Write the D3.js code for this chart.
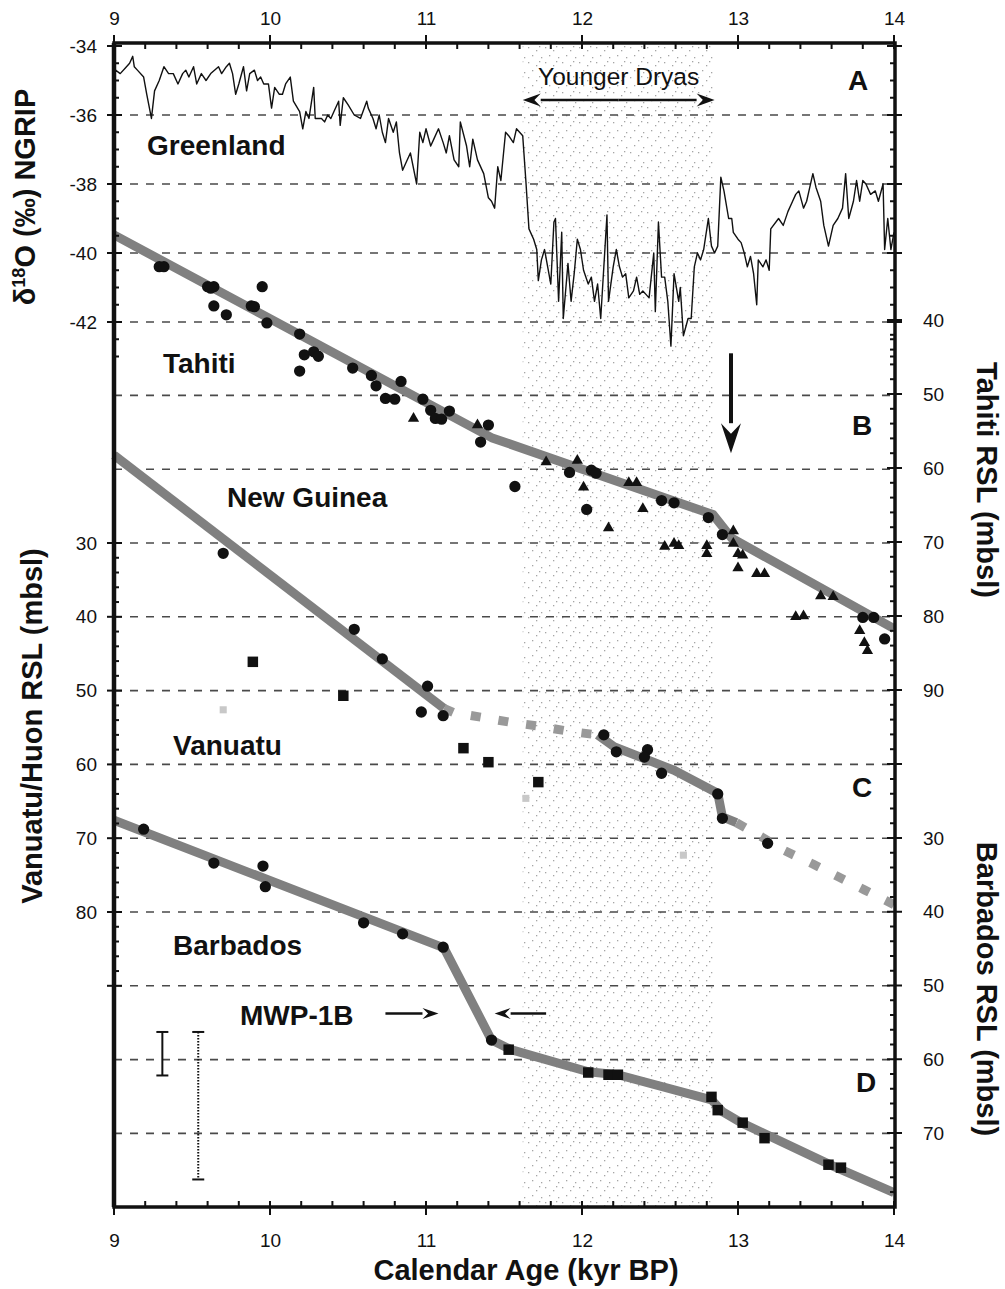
<!DOCTYPE html>
<meta charset="utf-8">
<style>
body { margin: 0; background: #fff; }
svg { font-family: "Liberation Sans", Arial, Helvetica, sans-serif; }
.lbl { font-weight: bold; font-size: 28px; fill: #111; }
.title { font-weight: bold; font-size: 29px; fill: #111; }
</style>
<body>
<script src="https://d3js.org/d3.v7.min.js"></script>
<script>
// ---- data (age in kyr BP) ----
var ageLabels = [9, 10, 11, 12, 13, 14];
var greenLabels = [-34, -36, -38, -40, -42];
var tahitiLabels = [40, 50, 60, 70, 80, 90];
var vanuatuLabels = [30, 40, 50, 60, 70, 80];
var barbadosLabels = [30, 40, 50, 60, 70];

// NGRIP d18O (per mil)
var greenland = [[9.00,-35.0],[9.01,-34.7],[9.04,-34.8],[9.08,-34.6],[9.10,-34.5],[9.12,-34.3],[9.13,-34.6],[9.15,-34.7],[9.19,-34.9],[9.21,-35.4],[9.24,-36.1],[9.26,-35.3],[9.29,-35.0],[9.32,-34.6],[9.35,-34.8],[9.38,-34.8],[9.41,-35.1],[9.44,-34.8],[9.46,-34.7],[9.48,-34.9],[9.51,-34.6],[9.53,-35.1],[9.56,-34.8],[9.59,-35.0],[9.62,-34.8],[9.67,-34.6],[9.69,-34.8],[9.72,-34.6],[9.74,-34.5],[9.76,-34.8],[9.78,-35.4],[9.80,-35.1],[9.83,-34.6],[9.85,-35.3],[9.87,-34.8],[9.90,-34.7],[9.92,-35.0],[9.94,-34.9],[9.96,-35.1],[9.99,-35.1],[10.01,-35.8],[10.03,-35.2],[10.06,-35.4],[10.08,-35.4],[10.10,-35.1],[10.13,-34.9],[10.15,-35.6],[10.19,-35.9],[10.21,-36.4],[10.23,-35.9],[10.25,-36.1],[10.28,-35.2],[10.29,-36.1],[10.33,-36.1],[10.35,-36.2],[10.37,-36.0],[10.39,-36.1],[10.41,-35.9],[10.44,-35.6],[10.45,-36.3],[10.47,-35.5],[10.50,-35.7],[10.54,-36.0],[10.58,-36.1],[10.62,-35.6],[10.63,-35.8],[10.66,-36.1],[10.68,-36.4],[10.70,-36.0],[10.72,-36.5],[10.74,-36.8],[10.76,-36.1],[10.79,-36.5],[10.81,-36.2],[10.83,-37.1],[10.85,-37.6],[10.87,-37.4],[10.90,-37.1],[10.94,-38.0],[10.96,-36.5],[10.98,-36.8],[11.00,-36.4],[11.03,-36.9],[11.05,-36.7],[11.08,-36.4],[11.11,-36.8],[11.13,-37.1],[11.15,-36.6],[11.18,-37.3],[11.21,-37.5],[11.22,-36.2],[11.26,-36.9],[11.28,-37.5],[11.30,-36.7],[11.33,-37.3],[11.37,-37.7],[11.40,-38.4],[11.42,-38.5],[11.44,-38.7],[11.46,-37.5],[11.48,-37.9],[11.51,-36.5],[11.53,-36.6],[11.56,-36.8],[11.58,-36.4],[11.60,-36.5],[11.62,-36.6],[11.64,-37.9],[11.66,-39.3],[11.69,-39.6],[11.71,-39.9],[11.72,-40.8],[11.74,-40.2],[11.76,-39.9],[11.78,-40.4],[11.80,-40.9],[11.82,-39.1],[11.83,-39.0],[11.85,-41.4],[11.87,-39.4],[11.88,-41.9],[11.91,-40.3],[11.93,-41.4],[11.95,-40.6],[11.97,-39.6],[11.99,-39.9],[12.01,-40.5],[12.04,-40.9],[12.06,-40.7],[12.08,-41.4],[12.10,-40.9],[12.12,-41.9],[12.14,-40.4],[12.16,-38.9],[12.17,-41.4],[12.20,-40.4],[12.22,-39.9],[12.24,-40.4],[12.26,-40.7],[12.28,-40.6],[12.30,-41.3],[12.33,-41.1],[12.35,-40.7],[12.37,-41.2],[12.39,-41.1],[12.41,-41.2],[12.43,-41.3],[12.46,-40.0],[12.47,-41.7],[12.49,-39.1],[12.51,-40.7],[12.53,-40.7],[12.55,-41.4],[12.57,-42.7],[12.59,-40.6],[12.62,-41.4],[12.63,-41.0],[12.65,-42.4],[12.68,-41.9],[12.70,-41.9],[12.72,-40.4],[12.74,-40.0],[12.76,-40.2],[12.78,-39.9],[12.81,-39.0],[12.83,-39.8],[12.85,-40.0],[12.87,-39.8],[12.89,-37.8],[12.91,-38.2],[12.94,-39.0],[12.96,-39.0],[12.97,-39.4],[13.00,-39.6],[13.02,-39.7],[13.04,-40.0],[13.06,-40.4],[13.08,-40.1],[13.10,-40.6],[13.12,-41.5],[13.13,-40.2],[13.16,-40.4],[13.18,-40.2],[13.20,-40.5],[13.21,-39.3],[13.26,-39.0],[13.29,-39.2],[13.32,-38.8],[13.35,-38.5],[13.37,-38.3],[13.39,-38.2],[13.42,-38.7],[13.44,-38.5],[13.46,-38.1],[13.48,-37.7],[13.50,-38.1],[13.53,-38.5],[13.55,-39.2],[13.58,-39.8],[13.61,-39.2],[13.64,-39.0],[13.67,-38.7],[13.69,-37.7],[13.71,-39.0],[13.74,-38.5],[13.76,-37.9],[13.78,-38.5],[13.80,-37.9],[13.82,-38.0],[13.85,-38.3],[13.88,-38.2],[13.90,-38.5],[13.93,-38.0],[13.94,-39.9],[13.96,-39.0],[13.98,-39.9],[14.00,-39.4]];

// Tahiti RSL (mbsl)
var tahitiLine = [[9.0,28.5],[11.42,55.9],[12.84,66.3],[12.96,69.5],[14.0,81.7]];
var tahitiCircles = [[9.29,32.8],[9.32,32.8],[9.60,35.5],[9.64,35.5],[9.62,35.7],[9.95,35.5],[9.64,38.1],[9.72,39.3],[9.88,38.1],[9.90,38.2],[9.98,40.4],[10.19,41.9],[10.22,44.7],[10.28,44.3],[10.31,44.9],[10.19,46.9],[10.53,46.5],[10.65,47.5],[10.68,48.9],[10.74,50.6],[10.80,50.7],[10.84,48.3],[10.98,50.7],[11.03,52.2],[11.06,53.3],[11.10,53.4],[11.15,52.3],[11.40,54.2],[11.35,56.5],[11.57,62.5],[12.03,65.6],[11.92,60.6],[12.06,60.3],[12.09,60.7],[12.51,64.4],[12.59,64.7],[12.81,66.7],[12.90,69.0],[13.80,80.2],[13.87,80.2],[13.94,83.1]];
var tahitiTriangles = [[10.92,53.3],[11.33,54.2],[11.77,59.2],[11.97,59.0],[12.01,62.6],[12.30,62.0],[12.35,62.0],[12.39,65.5],[12.17,68.1],[12.53,70.6],[12.59,70.2],[12.62,70.5],[12.80,70.5],[12.80,71.6],[12.97,68.5],[12.97,70.2],[13.00,71.6],[13.03,71.8],[13.00,73.5],[13.12,74.3],[13.17,74.3],[13.53,77.3],[13.61,77.4],[13.37,80.1],[13.42,80.0],[13.78,82.0],[13.81,83.6],[13.83,84.7]];

// New Guinea / Vanuatu RSL (mbsl)
var guineaLine = [[9.0,18.1],[11.115,52.4]];
var vanuatuDash1 = [[11.115,52.4],[11.18,53.0],[11.35,53.6],[11.545,54.3],[11.72,54.8],[11.91,55.5],[12.10,56.0]];
var vanuatuLine = [[12.10,56.0],[12.205,57.6],[12.59,60.8],[12.87,63.9],[12.90,67.1],[12.99,67.9]];
var vanuatuDash2 = [[12.99,67.9],[13.15,69.8],[13.29,71.6],[13.48,73.5],[13.64,75.2],[13.81,77.0],[14.0,79.0]];
var guineaCircles = [[9.70,31.4],[10.54,41.7],[10.72,45.7],[11.01,49.4],[10.97,52.9],[11.11,53.4],[12.14,56.0],[12.22,58.3],[12.42,58.0],[12.40,59.0],[12.51,61.2],[12.87,64.0],[12.90,67.3],[13.19,70.7]];
var vanuatuSquares = [[9.89,46.1],[10.47,50.7],[11.24,57.8],[11.40,59.7],[11.72,62.4]];
var huonFaint = [[9.70,52.6],[11.64,64.6],[12.65,72.3]];

// Barbados RSL (mbsl)
var barbadosLine = [[9.0,27.6],[11.115,44.9],[11.42,57.4],[11.545,58.7],[12.04,61.7],[12.23,62.1],[12.83,65.5],[12.90,67.1],[13.02,68.6],[13.62,74.6],[14.0,78.1]];
var barbadosCircles = [[9.19,28.8],[9.64,33.4],[9.955,33.8],[9.97,36.6],[10.60,41.5],[10.85,43.0],[11.11,44.8],[11.42,57.4]];
var barbadosSquares = [[11.53,58.7],[12.04,61.8],[12.17,62.1],[12.23,62.1],[12.83,65.1],[12.87,66.9],[13.03,68.6],[13.17,70.7],[13.58,74.3],[13.66,74.7]];
var errSolid = [9.31, 56.3, 62.2];
var errDotted = [9.54, 56.3, 76.3];

var youngerDryas = [11.62, 12.85];

// ---- layout ----
var width = 1005, height = 1289;
var fl = 114, fr = 895, ft = 43, fb = 1207;

var x = d3.scaleLinear().domain([9, 14]).range([114, 894]);
var yG = d3.scaleLinear().domain([-34, -42]).range([46, 322]);
var yT = d3.scaleLinear().domain([40, 90]).range([320, 690]);
var yV = d3.scaleLinear().domain([30, 80]).range([543, 912]);
var yB = d3.scaleLinear().domain([30, 70]).range([838, 1133]);

var svg = d3.select("body").append("svg")
	.attr("width", width)
	.attr("height", height);

// stipple for the Younger Dryas
var pat = svg.append("defs").append("pattern")
	.attr("id", "stip")
	.attr("patternUnits", "userSpaceOnUse")
	.attr("width", 17).attr("height", 15);
[[1,2],[9,5],[5,10],[14,12],[12,1]].forEach(function(p) {
	pat.append("rect").attr("x", p[0]).attr("y", p[1])
		.attr("width", 1.3).attr("height", 1.3).attr("fill", "#a5a5a5");
});

svg.append("rect")
	.attr("x", x(youngerDryas[0]))
	.attr("y", ft)
	.attr("width", x(youngerDryas[1]) - x(youngerDryas[0]))
	.attr("height", fb - ft)
	.attr("fill", "url(#stip)");

// dashed reference lines
var gridY = [-36, -38, -40, -42].map(function(d) { return yG(d); })
	.concat(d3.range(10, 111, 10).map(function(d) { return yV(d); }));
svg.append("g").selectAll("line")
	.data(gridY)
	.enter().append("line")
	.attr("x1", fl).attr("x2", fr)
	.attr("y1", function(d) { return d; })
	.attr("y2", function(d) { return d; })
	.attr("stroke", "#4a4a4a")
	.attr("stroke-width", 1.6)
	.attr("stroke-dasharray", "8,8");

// bands
function band(data, y, dashed) {
	var line = d3.line()
		.x(function(d) { return x(d[0]); })
		.y(function(d) { return y(d[1]); });
	svg.append("path")
		.datum(data)
		.attr("d", line)
		.attr("fill", "none")
		.attr("stroke", dashed ? "#999" : "#808080")
		.attr("stroke-width", 9)
		.attr("stroke-linejoin", "round")
		.attr("stroke-dasharray", dashed ? "10,18" : null);
}
band(tahitiLine, yT);
band(guineaLine, yV);
band(vanuatuDash1, yV, true);
band(vanuatuLine, yV);
band(vanuatuDash2, yV, true);
band(barbadosLine, yB);

// markers
function dots(data, y, type, size, fill) {
	svg.append("g").selectAll("path")
		.data(data)
		.enter().append("path")
		.attr("transform", function(d) { return "translate(" + x(d[0]) + "," + y(d[1]) + ")"; })
		.attr("d", d3.symbol().type(type).size(size))
		.attr("fill", fill);
}
dots(tahitiCircles, yT, d3.symbolCircle, 100, "#111");
dots(tahitiTriangles, yT, d3.symbolTriangle, 55, "#111");
dots(guineaCircles, yV, d3.symbolCircle, 100, "#111");
dots(vanuatuSquares, yV, d3.symbolSquare, 110, "#111");
dots(huonFaint, yV, d3.symbolSquare, 50, "#c8c8c8");
dots(barbadosCircles, yB, d3.symbolCircle, 100, "#111");
dots(barbadosSquares, yB, d3.symbolSquare, 110, "#111");

// Greenland curve
svg.append("path")
	.datum(greenland)
	.attr("d", d3.line()
		.x(function(d) { return x(d[0]); })
		.y(function(d) { return yG(d[1]); }))
	.attr("fill", "none")
	.attr("stroke", "#111")
	.attr("stroke-width", 1.4)
	.attr("stroke-linejoin", "round");

// error bars
function errBar(e, dotted) {
	var g = svg.append("g")
		.attr("stroke", "#111")
		.attr("stroke-width", 2);
	g.append("line")
		.attr("x1", x(e[0])).attr("x2", x(e[0]))
		.attr("y1", yB(e[1])).attr("y2", yB(e[2]))
		.attr("stroke-dasharray", dotted ? "1.5,1.5" : null);
	[e[1], e[2]].forEach(function(v) {
		g.append("line")
			.attr("x1", x(e[0]) - 6).attr("x2", x(e[0]) + 6)
			.attr("y1", yB(v)).attr("y2", yB(v));
	});
}
errBar(errSolid, false);
errBar(errDotted, true);

// arrows
function arrow(x1, y1, x2, y2, len, w, sw) {
	var a = Math.atan2(y2 - y1, x2 - x1),
		bx = x2 - len * Math.cos(a), by = y2 - len * Math.sin(a),
		px = -Math.sin(a) * w / 2, py = Math.cos(a) * w / 2;
	svg.append("line")
		.attr("x1", x1).attr("y1", y1).attr("x2", bx).attr("y2", by)
		.attr("stroke", "#111").attr("stroke-width", sw);
	svg.append("path")
		.attr("d", "M" + x2 + "," + y2 + "L" + (bx + px) + "," + (by + py) +
			"L" + (bx + 0.35 * (x2 - bx)) + "," + (by + 0.35 * (y2 - by)) +
			"L" + (bx - px) + "," + (by - py) + "Z")
		.attr("fill", "#111");
}
var ydMid = (x(youngerDryas[0]) + x(youngerDryas[1])) / 2;
arrow(ydMid, 100, x(youngerDryas[0]), 100, 18, 13, 2.5);
arrow(ydMid, 100, x(youngerDryas[1]), 100, 18, 13, 2.5);
arrow(x(12.955), yT(44.5), x(12.955), yT(58), 30, 20, 4);
arrow(x(10.74), yB(53.8), x(11.08), yB(53.8), 16, 11, 2.5);
arrow(x(11.77), yB(53.8), x(11.44), yB(53.8), 16, 11, 2.5);

// frame
svg.append("rect")
	.attr("x", fl).attr("y", ft)
	.attr("width", fr - fl).attr("height", fb - ft)
	.attr("fill", "none")
	.attr("stroke", "#111")
	.attr("stroke-width", 3.5);
svg.append("line")
	.attr("x1", fl).attr("x2", fl).attr("y1", ft).attr("y2", fb)
	.attr("stroke", "#111").attr("stroke-width", 4.5);

// ticks
function vTicks(scale, lo, hi, step, majorStep, ax, dir) {
	svg.append("g").selectAll("line")
		.data(d3.range(lo, hi + step / 2, step))
		.enter().append("line")
		.attr("y1", function(d) { return scale(d); })
		.attr("y2", function(d) { return scale(d); })
		.attr("x1", function(d) {
			return Math.abs(d / majorStep - Math.round(d / majorStep)) < 1e-6 ? ax - dir * 7 : ax;
		})
		.attr("x2", function(d) {
			return Math.abs(d / majorStep - Math.round(d / majorStep)) < 1e-6 ? ax + dir * 8 : ax + dir * 5;
		})
		.attr("stroke", "#111")
		.attr("stroke-width", 2);
}
vTicks(yG, -43, -34, 0.5, 2, fl, 1);
vTicks(yV, 30, 90, 2, 10, fl, 1);
vTicks(yG, -43, -34, 0.5, 2, fr, -1);
vTicks(yT, 40, 100, 2, 10, fr, -1);
vTicks(yB, 22, 78, 2, 10, fr, -1);

var ageTicks = d3.range(45, 71).map(function(d) { return d / 5; });
function hTicks(ay, dir) {
	svg.append("g").selectAll("line")
		.data(ageTicks)
		.enter().append("line")
		.attr("x1", function(d) { return x(d); })
		.attr("x2", function(d) { return x(d); })
		.attr("y1", function(d) { return Math.abs(d - Math.round(d)) < 1e-6 ? ay - dir * 8 : ay; })
		.attr("y2", ay + dir * 6)
		.attr("stroke", "#111")
		.attr("stroke-width", 2);
}
hTicks(ft, 1);
hTicks(fb, -1);

// tick labels (plain hyphen for negatives, as in the original)
var fmt = function(d) { return String(d); };
function labels(axis, tx, ty) {
	var g = svg.append("g")
		.attr("transform", "translate(" + tx + "," + ty + ")")
		.call(axis.tickSize(0).tickFormat(fmt));
	g.select(".domain").remove();
	g.attr("font-family", null).attr("font-size", 19);
	g.selectAll("text").attr("fill", "#111");
}
labels(d3.axisTop(x).tickValues(ageLabels).tickPadding(18), 0, ft);
labels(d3.axisBottom(x).tickValues(ageLabels).tickPadding(27), 0, fb);
labels(d3.axisLeft(yG).tickValues(greenLabels).tickPadding(17), fl, 0);
labels(d3.axisLeft(yV).tickValues(vanuatuLabels).tickPadding(17), fl, 0);
labels(d3.axisRight(yT).tickValues(tahitiLabels).tickPadding(28), fr, 0);
labels(d3.axisRight(yB).tickValues(barbadosLabels).tickPadding(28), fr, 0);

// text labels
var txt = [
	["Greenland", 147, 155], ["Tahiti", 163, 373], ["New Guinea", 227, 507],
	["Vanuatu", 173, 755], ["Barbados", 173, 955], ["MWP-1B", 240, 1025]
];
svg.append("g").selectAll("text")
	.data(txt)
	.enter().append("text")
	.attr("class", "lbl")
	.attr("x", function(d) { return d[1]; })
	.attr("y", function(d) { return d[2]; })
	.text(function(d) { return d[0]; });

var panels = [["A", 858, 90], ["B", 862, 435], ["C", 862, 797], ["D", 866, 1092]];
svg.append("g").selectAll("text")
	.data(panels)
	.enter().append("text")
	.attr("class", "lbl")
	.attr("text-anchor", "middle")
	.attr("x", function(d) { return d[1]; })
	.attr("y", function(d) { return d[2]; })
	.text(function(d) { return d[0]; });

svg.append("text")
	.attr("x", ydMid).attr("y", 85)
	.attr("text-anchor", "middle")
	.attr("font-size", 24.5)
	.attr("fill", "#111")
	.text("Younger Dryas");

// axis titles
svg.append("text")
	.attr("class", "title")
	.attr("x", 526).attr("y", 1280)
	.attr("text-anchor", "middle")
	.text("Calendar Age (kyr BP)");

var d18 = svg.append("text")
	.attr("class", "title")
	.attr("transform", "translate(35,197) rotate(-90)")
	.attr("text-anchor", "middle");
d18.append("tspan").text("δ");
d18.append("tspan").attr("font-size", 18).attr("dy", -10).text("18");
d18.append("tspan").attr("dy", 10).text("O (‰) NGRIP");

svg.append("text")
	.attr("class", "title")
	.attr("transform", "translate(42,726) rotate(-90)")
	.attr("text-anchor", "middle")
	.text("Vanuatu/Huon RSL (mbsl)");

svg.append("text")
	.attr("class", "title")
	.attr("transform", "translate(977,480) rotate(90)")
	.attr("text-anchor", "middle")
	.text("Tahiti RSL (mbsl)");

svg.append("text")
	.attr("class", "title")
	.attr("transform", "translate(977,989) rotate(90)")
	.attr("text-anchor", "middle")
	.text("Barbados RSL (mbsl)");
</script>
